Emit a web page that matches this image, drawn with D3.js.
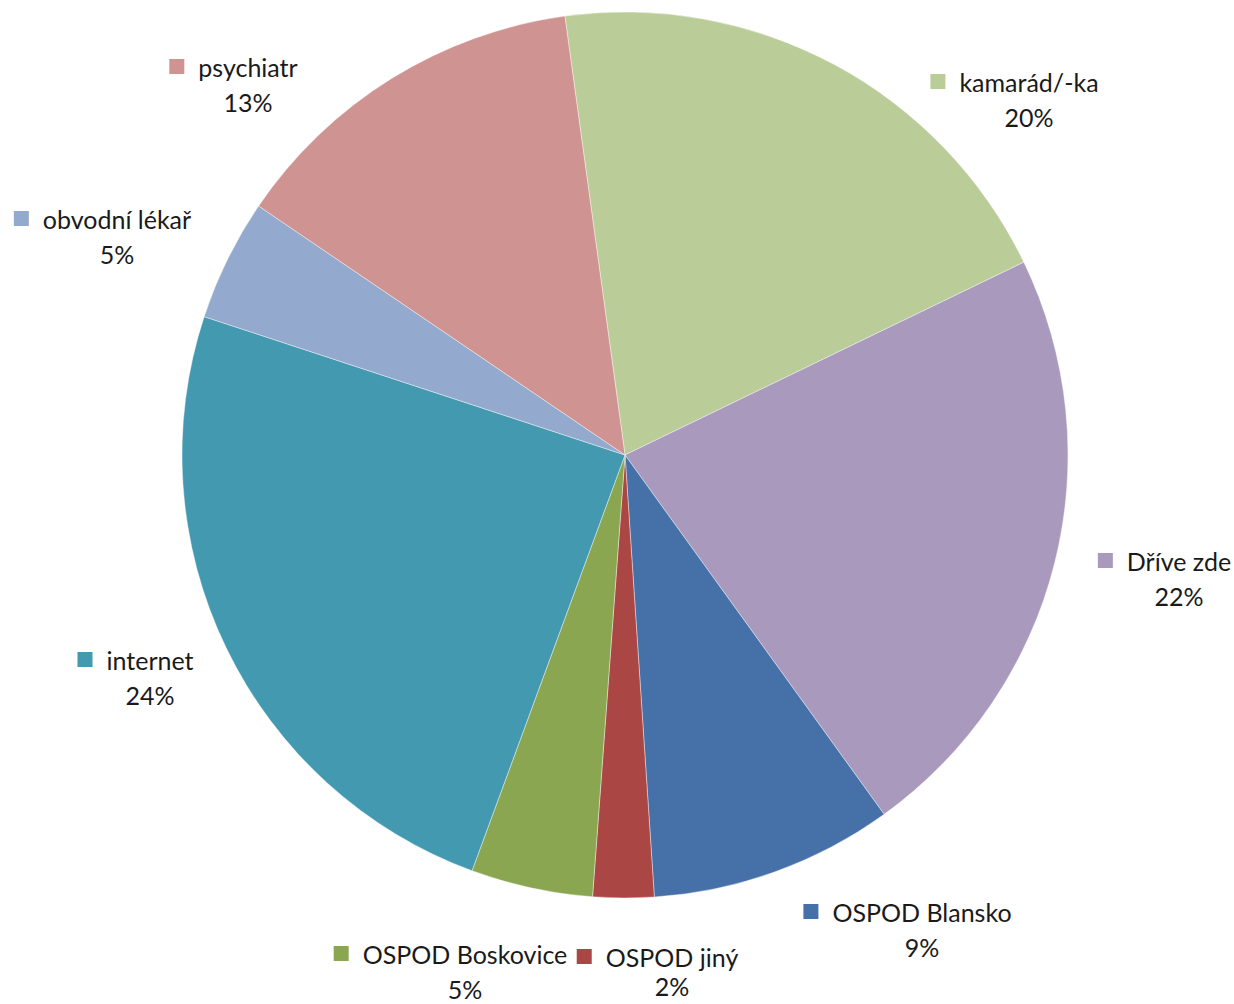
<!DOCTYPE html>
<html>
<head>
  <meta charset="utf-8">
  <title>Pie chart</title>
  <script src="https://d3js.org/d3.v7.min.js"></script>
  <style>
    body {
      margin: 0;
      background: #fff;
    }
    .label {
      font-family: Lato, 'Noto Sans', sans-serif;
      font-size: 25px;
      fill: #1a1a1a;
    }
  </style>
</head>
<body>
  <svg id="chart" width="1234" height="1004"></svg>
  <script>
    // Data (clockwise from the top)
    const categories = ["kamarád/-ka", "Dříve zde", "OSPOD Blansko", "OSPOD jiný", "OSPOD Boskovice", "internet", "obvodní lékař", "psychiatr"];
    const counts = [9, 10, 4, 1, 2, 11, 2, 6];
    const percentLabels = ["20%", "22%", "9%", "2%", "5%", "24%", "5%", "13%"];
    const colors = ["#bacd98", "#a99abd", "#4671a8", "#aa4644", "#8ba650", "#4399b0", "#94a9ce", "#cf9391"];

    // Layout
    const width = 1234;
    const height = 1004;
    const cx = 625, cy = 455, radius = 443;
    const startAngle = -7.8 * Math.PI / 180;

    // label anchors: name text centre x, name baseline y
    const labelAnchor = {
      "kamarád/-ka": [1029, 92],
      "Dříve zde": [1179, 571],
      "OSPOD Blansko": [922, 922],
      "OSPOD jiný": [672, 967],
      "OSPOD Boskovice": [465, 964],
      "internet": [150, 670],
      "obvodní lékař": [117, 229],
      "psychiatr": [248, 77]
    };

    const svg = d3.select("#chart");

    const rows = categories.map((c, i) => ({ name: c, value: counts[i], pct: percentLabels[i], color: colors[i] }));

    const pie = d3.pie()
      .sort(null)
      .value(d => d.value)
      .startAngle(startAngle)
      .endAngle(startAngle + 2 * Math.PI);

    const arc = d3.arc().innerRadius(0).outerRadius(radius);

    const g = svg.append("g").attr("transform", `translate(${cx},${cy})`);

    g.selectAll("path.slice")
      .data(pie(rows))
      .enter()
      .append("path")
      .attr("class", "slice")
      .attr("d", arc)
      .attr("fill", d => d.data.color)
      .attr("stroke", "#ffffff")
      .attr("stroke-opacity", 0.5)
      .attr("stroke-width", 0.8);

    // Labels: marker + name, percentage below
    const labels = svg.selectAll("g.lbl")
      .data(rows)
      .enter()
      .append("g")
      .attr("class", "lbl")
      .attr("transform", d => `translate(${labelAnchor[d.name][0]},${labelAnchor[d.name][1]})`);

    labels.append("text")
      .attr("class", "label name")
      .attr("text-anchor", "middle")
      .text(d => d.name);

    // the bottom label sits against the lower edge, so pull its percentage up a little
    labels.append("text")
      .attr("class", "label")
      .attr("text-anchor", "middle")
      .attr("y", d => d.name === "OSPOD jiný" ? 29 : 35)
      .text(d => d.pct);

    labels.each(function(d) {
      const grp = d3.select(this);
      const w = grp.select("text.name").node().getComputedTextLength();
      grp.insert("rect", "text")
        .attr("x", -w / 2 - 29)
        .attr("y", -18)
        .attr("width", 15)
        .attr("height", 15)
        .attr("fill", d.color);
    });
  </script>
</body>
</html>
